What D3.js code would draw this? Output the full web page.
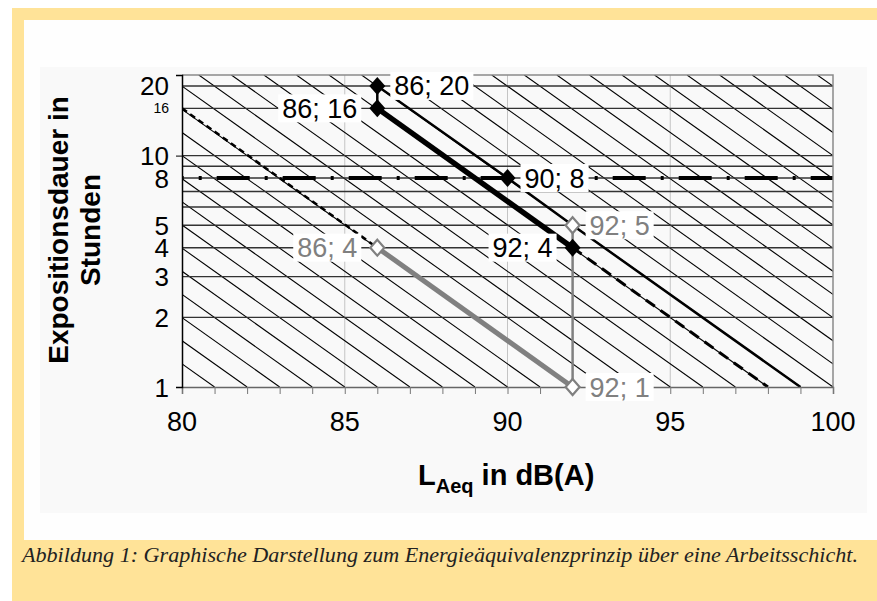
<!DOCTYPE html>
<html>
<head>
<meta charset="utf-8">
<script src="https://cdn.jsdelivr.net/npm/d3@7"></script>
<style>
  body { margin: 0; background: #fff; }
  svg text { font-family: "Liberation Sans", Arial, sans-serif; }
</style>
</head>
<body>
<div id="canvas"></div>
<script>
// data
var xTickLabels = [80, 85, 90, 95, 100];
var xMinorTicks = [80, 81, 82, 83, 84, 85, 86, 87, 88, 89, 90, 91, 92, 93, 94, 95, 96, 97, 98, 99, 100];
var yTickLabels = [1, 2, 3, 4, 5, 8, 10, 20];
var ySmallLabels = [16];
var yGridLines = [2, 3, 4, 5, 6, 7, 8, 9, 10, 16, 20];
var xGridLines = [85, 90, 95];
// hatch = lines of equal energy, named by their level at 1 hour
var hatchLevels = [81, 82, 83, 84, 85, 86, 87, 88, 89, 90, 91, 92, 93, 94, 95, 96, 97,
                   98, 99, 100, 101, 102, 103, 104, 105, 106, 107, 108, 109, 110, 111, 112, 113];

var thickBlack = [[86, 16], [92, 4]];
var thinBlack = [[86, 20], [90, 8], [92, 5], [99, 1]];
var stepBlack = [[86, 20], [86, 16]];
var dashedRight = [[92, 4], [98, 1]];
var dashedLeft = [[80, 16], [86, 4]];
var limitLine = [[80, 8], [100, 8]];
var grayDiag = [[86, 4], [92, 1]];
var grayVert = [[92, 1], [92, 5]];

var blackPoints = [[86, 20, 'right'], [86, 16, 'left'], [90, 8, 'right'], [92, 4, 'left']];
var grayPoints = [[86, 4, 'left'], [92, 5, 'right'], [92, 1, 'right']];

var yMax = 22.3;

var W = 877, H = 601;
var svg = d3.select('#canvas').append('svg')
    .attr('width', W).attr('height', H);

// frame
svg.append('rect').attr('x', 12).attr('y', 8).attr('width', W - 12).attr('height', H - 8).attr('fill', '#ffe398');
svg.append('rect').attr('x', 24).attr('y', 20).attr('width', W - 24).attr('height', 520).attr('fill', '#fefefe');
svg.append('rect').attr('x', 40).attr('y', 67).attr('width', 827).attr('height', 446).attr('fill', '#f9f9f9');

var m = {l: 182, r: 833, t: 75, b: 387};
var x = d3.scaleLinear().domain([80, 100]).range([m.l, m.r]);
var y = d3.scaleLog().domain([1, yMax]).range([m.b, m.t]);

svg.append('clipPath').attr('id', 'plotclip')
    .append('rect').attr('x', m.l).attr('y', m.t).attr('width', m.r - m.l).attr('height', m.b - m.t);

var plot = svg.append('g').attr('clip-path', 'url(#plotclip)');

// vertical grid
plot.selectAll('.vgrid').data(xGridLines).enter().append('line')
    .attr('x1', function(d){ return x(d); }).attr('x2', function(d){ return x(d); })
    .attr('y1', m.t).attr('y2', m.b)
    .attr('stroke', '#c4c4c4').attr('stroke-width', 1);

// hatch
plot.selectAll('.hatch').data(hatchLevels).enter().append('line')
    .attr('x1', function(c){ return x(c - 10 * Math.log10(yMax)); })
    .attr('y1', y(yMax))
    .attr('x2', function(c){ return x(c); })
    .attr('y2', y(1))
    .attr('stroke', '#000').attr('stroke-width', 1.1);

// horizontal grid
plot.selectAll('.hgrid').data(yGridLines).enter().append('line')
    .attr('x1', m.l).attr('x2', m.r)
    .attr('y1', function(d){ return y(d); }).attr('y2', function(d){ return y(d); })
    .attr('stroke', '#333').attr('stroke-width', 1.4);

var line = d3.line().x(function(d){ return x(d[0]); }).y(function(d){ return y(d[1]); });

function drawLine(data, color, width, dash, offset) {
    var p = plot.append('path').datum(data).attr('d', line)
        .attr('fill', 'none').attr('stroke', color).attr('stroke-width', width);
    if (dash) p.attr('stroke-dasharray', dash);
    if (offset) p.attr('stroke-dashoffset', offset);
    return p;
}

drawLine(limitLine, '#000', 4, '33,15,3,15', 31.3);
drawLine(dashedLeft, '#000', 2.5, '6,4');
drawLine(thinBlack, '#000', 2.5);
drawLine(dashedRight, '#000', 3, '11,7');
drawLine(stepBlack, '#000', 2.5);
drawLine(thickBlack, '#000', 5.5);
drawLine(grayDiag, '#808080', 5);
drawLine(grayVert, '#808080', 2.5);

// plot border top/right
svg.append('path')
    .attr('d', 'M' + m.l + ',' + m.t + 'H' + m.r + 'V' + m.b)
    .attr('fill', 'none').attr('stroke', '#8a8a8a').attr('stroke-width', 1.5);

// x axis
var axisX = d3.axisBottom(x).tickValues(xMinorTicks).tickSize(7).tickFormat('');
var gx = svg.append('g').attr('transform', 'translate(0,' + m.b + ')').call(axisX);
gx.select('.domain').attr('stroke', '#666').attr('stroke-width', 1.5);
gx.selectAll('.tick line').attr('stroke', '#777');

svg.selectAll('.xlab').data(xTickLabels).enter().append('text')
    .attr('x', function(d){ return x(d); }).attr('y', 431)
    .attr('text-anchor', 'middle').attr('font-size', 27).attr('fill', '#000')
    .text(function(d){ return d; });

// y axis
var axisY = d3.axisLeft(y).tickValues([1, 10]).tickSize(6).tickFormat('');
var gy = svg.append('g').attr('transform', 'translate(' + m.l + ',0)').call(axisY);
gy.select('.domain').attr('stroke', '#000').attr('stroke-width', 1.5);
gy.selectAll('.tick line').attr('stroke', '#000');

svg.selectAll('.ylab').data(yTickLabels).enter().append('text')
    .attr('x', 169).attr('y', function(d){ return y(d) + 9.5; })
    .attr('text-anchor', 'end').attr('font-size', 26).attr('fill', '#000')
    .text(function(d){ return d; });
svg.selectAll('.ylabs').data(ySmallLabels).enter().append('text')
    .attr('x', 169).attr('y', function(d){ return y(d) + 5; })
    .attr('text-anchor', 'end').attr('font-size', 14).attr('fill', '#000')
    .text(function(d){ return d; });

// data labels with white boxes
function drawLabels(points, color) {
    points.forEach(function(p){
        var px = x(p[0]), py = y(p[1]);
        var g = svg.append('g');
        var rect = g.append('rect').attr('fill', '#fff');
        var t = g.append('text')
            .attr('font-size', 27).attr('fill', color)
            .attr('y', py + 9.5)
            .text(p[0] + '; ' + p[1]);
        var tw = t.node().getComputedTextLength();
        var tx = p[2] === 'right' ? px + 17 : px - 20 - tw;
        t.attr('x', tx);
        rect.attr('x', tx - 4).attr('y', py - 14).attr('width', tw + 8).attr('height', 28);
    });
}
drawLabels(blackPoints, '#000');
drawLabels(grayPoints, '#808080');

svg.selectAll('.bm').data(blackPoints).enter().append('path')
    .attr('d', 'M0,-9L8,0L0,9L-8,0Z')
    .attr('transform', function(d){ return 'translate(' + x(d[0]) + ',' + y(d[1]) + ')'; })
    .attr('fill', '#000');
svg.selectAll('.gm').data(grayPoints).enter().append('path')
    .attr('d', 'M0,-8L7,0L0,8L-7,0Z')
    .attr('transform', function(d){ return 'translate(' + x(d[0]) + ',' + y(d[1]) + ')'; })
    .attr('fill', '#fff').attr('stroke', '#808080').attr('stroke-width', 2.2);

// axis titles
var xt = svg.append('text').attr('x', 418).attr('y', 485)
    .attr('font-weight', 'bold').attr('font-size', 29).attr('fill', '#000');
xt.append('tspan').text('L');
xt.append('tspan').attr('font-size', 20).attr('dy', 8).text('Aeq');
xt.append('tspan').attr('dy', -8).text(' in dB(A)');

var yt = svg.append('text').attr('transform', 'translate(68,230) rotate(-90)')
    .attr('text-anchor', 'middle').attr('font-weight', 'bold').attr('font-size', 28).attr('fill', '#000');
yt.append('tspan').attr('x', 0).attr('y', 0).text('Expositionsdauer in');
yt.append('tspan').attr('x', 0).attr('y', 32).text('Stunden');

// caption
svg.append('text').attr('x', 22).attr('y', 562)
    .style('font-family', '"Liberation Serif", "Times New Roman", serif')
    .attr('font-style', 'italic').attr('font-size', 22).attr('fill', '#222')
    .attr('textLength', 836).attr('lengthAdjust', 'spacingAndGlyphs')
    .text('Abbildung 1: Graphische Darstellung zum Energieäquivalenzprinzip über eine Arbeitsschicht.');
</script>
</body>
</html>
